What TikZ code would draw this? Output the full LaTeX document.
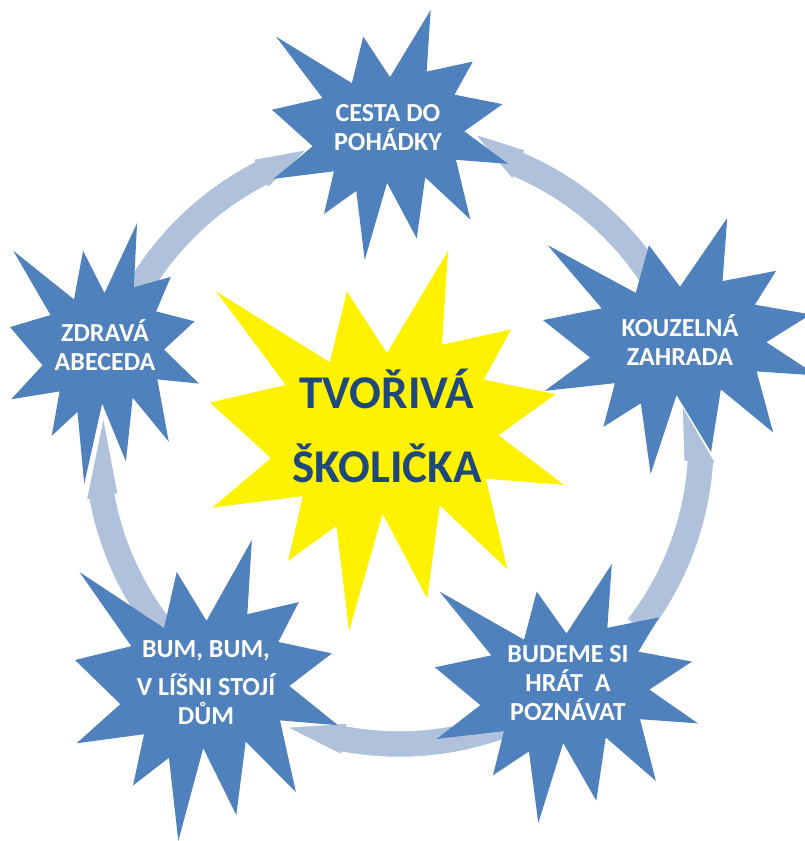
\documentclass[tikz,border=0pt]{standalone}
\usepackage{fontspec}
\setmainfont{Carlito}
\usepackage{tikz}
\usetikzlibrary{calc}

\definecolor{burstblue}{HTML}{4F81BD}
\definecolor{ringblue}{HTML}{B0C1DC}
\definecolor{titleblue}{HTML}{1F497D}

\tikzset{
	burst/.style={fill=burstblue},
	sun/.style={fill=yellow},
	ringseg/.style={fill=ringblue, draw=white, line width=2.5pt, line join=miter},
	startext/.style={text=white, font=\bfseries\fontsize{26}{29}\selectfont, align=center, inner sep=0pt},
	titletext/.style={text=titleblue, font=\bfseries\fontsize{47}{74}\selectfont, align=center, inner sep=0pt}
}

%explosion outline, given in percent of its box: x, y, width, height, style
\newcommand{\explosion}[5]{%
	\begin{scope}[shift={(#1,#2)}, xscale=#3/100, yscale=#4/100]
		\path[#5] (50,26.85) -- (67.23,0) -- (65.53,24.65) -- (85.09,20.63) -- (77.32,33.87)
		-- (97.67,37.67) -- (81.51,48.50) -- (100,61.53) -- (77.95,59.92) -- (84.00,83.77)
		-- (64.91,66.93) -- (61.33,91.38) -- (48.76,69.14) -- (39.28,100) -- (35.72,72.35)
		-- (22.05,81.56) -- (26.24,64.52) -- (0.63,67.53) -- (17.23,54.51) -- (0,39.88)
		-- (21.42,35.26) -- (1.71,10.63) -- (33.85,29.26) -- (38.67,10.63) -- cycle;
	\end{scope}}

%ring piece: tail angle, neck angle, tip angle, tip radius
\newcommand{\ringarrow}[4]{%
	\path[ringseg] ($(Ring)+(#1:316)$) arc[start angle=#1, end angle=#2, radius=316]
	-- ($(Ring)+(#2:319)$) -- ($(Ring)+(#3:#4)$) -- ($(Ring)+(#2:285)$)
	-- ($(Ring)+(#2:288)$) arc[start angle=#2, end angle=#1, radius=288] -- cycle;}

\begin{document}
\begin{tikzpicture}[x=1pt, y=-1pt]

	\fill[white] (0,0) rectangle (805,841);
	\useasboundingbox (0,0) rectangle (805,841);

	%Ring
	\coordinate (Ring) at (399,442);
	\ringarrow{208}{242.6}{253}{307}
	\ringarrow{330}{293.5}{283.4}{318}
	\ringarrow{38}{4}{-8}{285}
	\ringarrow{65}{100.3}{112}{307}
	\ringarrow{140}{169.4}{185.6}{297}

	%Bursts
	\explosion{272}{10}{236}{250}{burst}
	\explosion{543}{218}{274}{256}{burst}
	\explosion{435}{564}{263}{259}{burst}
	\explosion{75}{540}{263}{301}{burst}
	\explosion{10}{223}{189}{261}{burst}
	\explosion{210}{251}{354}{380}{sun}

	%Labels
	\node[startext] (Cesta) at (388,128) {CESTA DO\\POHÁDKY};
	\node[startext] (Zahrada) at (680,340) {KOUZELNÁ\\ZAHRADA};
	\node[startext] (Hrat) at (568,683) {BUDEME SI\\HRÁT\ \ A\\POZNÁVAT};
	\node[startext] (Bum) at (206,683) {BUM, BUM,\\[9pt]V LÍŠNI STOJÍ\\DŮM};
	\node[startext] (Abeceda) at (105,345) {ZDRAVÁ\\ABECEDA};
	\node[titletext] (Skolicka) at (387,426) {TVOŘIVÁ\\ŠKOLIČKA};

\end{tikzpicture}
\end{document}
